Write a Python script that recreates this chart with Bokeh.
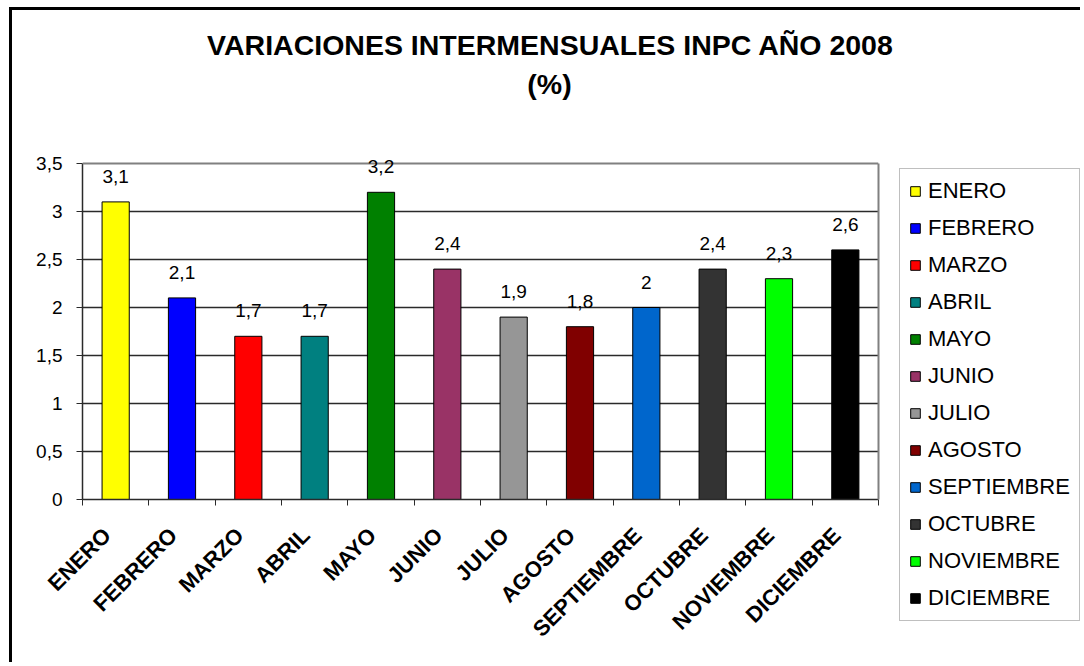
import numpy as np
from math import pi
from bokeh.plotting import figure
from bokeh.layouts import column, row
from bokeh.models import (ColumnDataSource, FixedTicker, LabelSet, Label, Legend,
                          LegendItem, LinearAxis, Span)
from bokeh.core.properties import value
from bokeh.embed import file_html
from bokeh.resources import INLINE

months = ["ENERO", "FEBRERO", "MARZO", "ABRIL", "MAYO", "JUNIO", "JULIO",
          "AGOSTO", "SEPTIEMBRE", "OCTUBRE", "NOVIEMBRE", "DICIEMBRE"]
values = [3.1, 2.1, 1.7, 1.7, 3.2, 2.4, 1.9, 1.8, 2.0, 2.4, 2.3, 2.6]
value_labels = ["3,1", "2,1", "1,7", "1,7", "3,2", "2,4", "1,9", "1,8", "2", "2,4", "2,3", "2,6"]
colors = ["#FFFF00", "#0000FF", "#FF0000", "#008080", "#008000", "#993366",
          "#969696", "#800000", "#0066CC", "#333333", "#00FF00", "#000000"]
y_ticks = [0, 0.5, 1, 1.5, 2, 2.5, 3, 3.5]
y_tick_labels = ["0", "0,5", "1", "1,5", "2", "2,5", "3", "3,5"]
title_lines = ["VARIACIONES INTERMENSUALES INPC AÑO 2008", "(%)"]

FONT = "Liberation Sans"
TITLE_H = 113
BODY_H = 539
Y_MAX = y_ticks[-1]
Y_VIEW_TOP = Y_MAX + 0.25   # head-room so data labels above the plot area are not clipped

# ---------------- title strip ----------------
tf = figure(width=1068, height=TITLE_H, x_range=(0, 1), y_range=(0, 1),
            output_backend="svg", toolbar_location=None,
            x_axis_location=None, y_axis_location=None, min_border=0)
tf.frame_align = False
tf.outline_line_color = None
tf.xgrid.grid_line_color = None
tf.ygrid.grid_line_color = None
tf.add_layout(Label(x=538, y=TITLE_H - 34, x_units="screen", y_units="screen",
                    text=title_lines[0], text_align="center", text_baseline="alphabetic",
                    text_font=FONT, text_font_style="bold", text_font_size="28.5px",
                    text_color="black"))
tf.add_layout(Label(x=537, y=TITLE_H - 73, x_units="screen", y_units="screen",
                    text=title_lines[1], text_align="center", text_baseline="alphabetic",
                    text_font=FONT, text_font_style="bold", text_font_size="28.5px",
                    text_color="black"))

# ---------------- main chart ----------------
xs = list(range(len(months)))
label_pos = [x - 0.13 for x in xs]
src = ColumnDataSource(dict(x=xs, value=values, label=value_labels,
                            color=colors, month=months))

p = figure(width=878, height=BODY_H, x_range=(-0.5, len(months) - 0.5),
           y_range=(0, Y_VIEW_TOP),
           output_backend="svg", toolbar_location=None,
           min_border_left=70, min_border_right=12, min_border_top=16, min_border_bottom=163)
p.background_fill_color = "white"
p.border_fill_color = "white"
p.outline_line_color = None

p.vbar(x="x", top="value", width=0.41, source=src, fill_color="color",
       line_color="black", line_width=1)

p.yaxis.ticker = FixedTicker(ticks=y_ticks)
p.yaxis.bounds = (0, Y_MAX)
p.yaxis.major_label_overrides = {t: l for t, l in zip(y_ticks, y_tick_labels)}
p.yaxis.major_label_text_font = FONT
p.yaxis.major_label_text_font_size = "19px"
p.yaxis.major_label_text_color = "black"
p.yaxis.axis_line_color = "#2a2a2a"
p.yaxis.axis_line_width = 1.5
p.yaxis.major_tick_line_color = "#2a2a2a"
p.yaxis.major_tick_out = 6
p.yaxis.major_tick_in = 0
p.yaxis.minor_tick_line_color = None
p.yaxis.major_label_standoff = 14

p.xaxis.ticker = FixedTicker(ticks=label_pos,
                             minor_ticks=[i - 0.5 for i in range(len(months) + 1)])
p.xaxis.major_label_overrides = {t: m for t, m in zip(label_pos, months)}
p.xaxis.major_label_orientation = pi / 4
p.xaxis.major_label_text_font = FONT
p.xaxis.major_label_text_font_style = "bold"
p.xaxis.major_label_text_font_size = "22px"
p.xaxis.major_label_text_color = "black"
p.xaxis.major_tick_line_color = None
p.xaxis.major_tick_out = 0
p.xaxis.major_tick_in = 0
p.xaxis.minor_tick_line_color = "#2a2a2a"
p.xaxis.minor_tick_out = 6
p.xaxis.minor_tick_in = 0
p.xaxis.axis_line_color = "#2a2a2a"
p.xaxis.axis_line_width = 1.5
p.xaxis.major_label_standoff = 26

p.xgrid.grid_line_color = None
p.ygrid.ticker = FixedTicker(ticks=y_ticks[:-1])
p.ygrid.grid_line_color = "#2a2a2a"
p.ygrid.grid_line_width = 1.6

# plot-area border (grey) on top and right, ending at the top tick
p.add_layout(Span(location=Y_MAX, dimension="width", line_color="#808080", line_width=2))
right_edge = LinearAxis(ticker=FixedTicker(ticks=[]), bounds=(0, Y_MAX),
                        axis_line_color="#808080", axis_line_width=2,
                        major_tick_line_color=None, minor_tick_line_color=None,
                        major_label_text_font_size="0px")
p.add_layout(right_edge, "right")

p.add_layout(LabelSet(x="x", y="value", text="label", source=src, y_offset=19,
                      text_align="center", text_baseline="alphabetic",
                      text_font=value(FONT), text_font_size=value("19px"),
                      text_color="black"))

# ---------------- legend strip ----------------
lp = figure(width=190, height=BODY_H, x_range=(0, 1), y_range=(0, 1),
            output_backend="svg", toolbar_location=None,
            x_axis_location=None, y_axis_location=None, min_border=0)
lp.frame_align = False
lp.outline_line_color = None
lp.xgrid.grid_line_color = None
lp.ygrid.grid_line_color = None
items = []
for m, c in zip(months, colors):
    proxy = lp.vbar(x=[np.nan], top=[np.nan], width=0.5, fill_color=c,
                    line_color="black", line_width=1)
    items.append(LegendItem(label=m, renderers=[proxy]))
legend = Legend(items=items, location=(9, 41))
legend.label_text_font = FONT
legend.label_text_font_size = "22px"
legend.label_text_color = "black"
legend.padding = 9
legend.spacing = 11
legend.label_height = 26
legend.glyph_height = 12
legend.glyph_width = 12
legend.label_standoff = 7
legend.margin = 0
legend.border_line_color = "#808080"
legend.border_line_width = 1
legend.background_fill_color = "white"
legend.background_fill_alpha = 1
lp.add_layout(legend, "center")

layout = column(tf, row(p, lp, spacing=0), spacing=0,
                styles={"margin-left": "9px", "margin-top": "7px",
                        "border-left": "3px solid black", "border-top": "3px solid black"})

open("out.html", "w").write(file_html(layout, INLINE))
